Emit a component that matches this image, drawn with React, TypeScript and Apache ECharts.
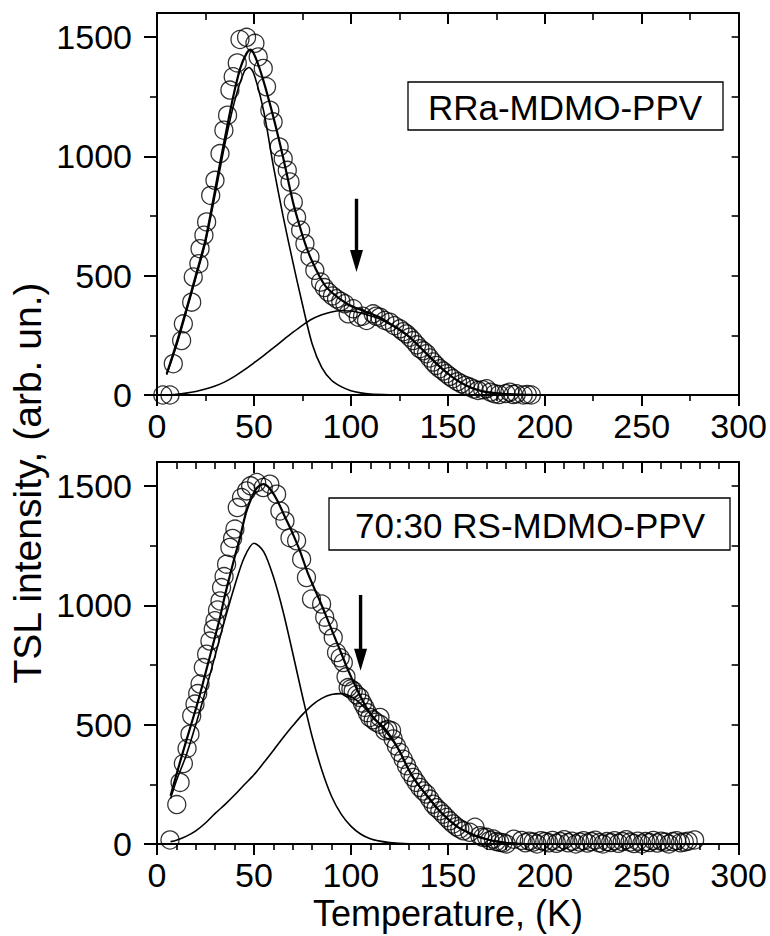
import React, { useEffect, useRef } from "react";
import * as echarts from "echarts";

// ---------- data ----------
const xMajorTicks = [0, 50, 100, 150, 200, 250, 300];
const yMajorTicks = [0, 500, 1000, 1500];
const yMinorTicks = [250, 750, 1250];
const yAllTicks = [0, 250, 500, 750, 1000, 1250, 1500];

const topLabel = "RRa-MDMO-PPV";
const bottomLabel = "70:30 RS-MDMO-PPV";
const xTitle = "Temperature, (K)";
const yTitle = "TSL intensity, (arb. un.)";

// top panel: measured points (T, intensity)
const topCircles: number[][] = [
  [3, 0], [6.7, 0], [8.4, 131], [12.7, 228], [13.6, 298], [17.9, 389], [18.7, 494], [21.6, 550],
  [22.2, 613], [24.2, 669], [25.6, 725], [27.7, 836], [29.9, 899], [32.5, 1011], [34.5, 1109],
  [36.4, 1172], [37.6, 1277], [39.3, 1333], [41.4, 1391], [42.8, 1489], [46.2, 1498], [50.5, 1473],
  [52.2, 1416], [54.8, 1368], [56.5, 1291], [58.2, 1193], [59.9, 1144], [63, 1039], [65.1, 990],
  [67.2, 941], [68.6, 892], [70.3, 808], [72, 745], [74.1, 690], [76.3, 634], [78.9, 578],
  [81.4, 522], [84.4, 473], [86.3, 450], [88.3, 431], [90.5, 415], [92.6, 403], [94.8, 392],
  [96.9, 382], [98.6, 340], [101.2, 361], [103.8, 326], [106, 330], [108.1, 312], [111.5, 340],
  [113, 330], [115, 326], [117.5, 312], [120, 305], [122.5, 290], [125.3, 277], [127, 265],
  [128.7, 256], [130.4, 242], [132.1, 228], [134, 210], [135.6, 194], [137.3, 185], [139, 173],
  [140.7, 155], [142.4, 138], [144, 124], [145.9, 110], [147.6, 100], [149.3, 89], [151, 78],
  [152.7, 68], [155, 56], [157, 47], [159, 40], [161.3, 33], [163.5, 25], [165.6, 19], [168, 22],
  [170, 26], [172, 12], [174.2, 5], [176.5, 2], [178.5, -16], [180, 6], [182, 12], [183.7, 2],
  [185.4, 5], [187, -3], [188.9, 0], [191, 2], [193.1, 0],
];
const topFitSum: number[][] = [
  [5, 89], [10, 215], [15, 355], [20, 500], [22.2, 564], [25, 650], [30, 860], [32.5, 970],
  [35, 1075], [39.3, 1249], [43, 1370], [46.2, 1431], [48.3, 1447], [51, 1410], [54.8, 1319],
  [60, 1165], [65, 997], [70, 813], [73.5, 710], [77, 620], [80, 560], [84, 494], [87, 455],
  [91, 424], [95, 398], [99.5, 375], [104, 360], [108, 347], [112, 335], [115, 325], [120, 300],
  [125, 275], [130, 245], [135, 205], [140, 165], [145, 125], [150, 90], [155, 60], [160, 38],
  [165, 22], [170, 12], [175, 7], [180, 4], [185, 2], [190, 1], [195, 0],
];
const topPeak1: number[][] = [
  [5, 85], [10, 205], [15, 345], [20, 490], [25, 640], [30, 840], [35, 1050], [40, 1230],
  [45, 1355], [47.5, 1372], [50, 1345], [55, 1190], [60, 960], [65, 750], [70, 560], [75, 380],
  [80, 215], [85, 115], [90, 62], [95, 35], [100, 18], [105, 9], [110, 4], [120, 1], [130, 0],
  [150, 0], [170, 0], [190, 0],
];
const topPeak2: number[][] = [
  [5, 0], [10, 3], [15, 8], [20, 15], [25, 25], [30, 38], [35, 55], [40, 78], [45, 105],
  [50, 135], [55, 165], [60, 197], [65, 230], [70, 262], [75, 292], [80, 318], [85, 336],
  [90, 348], [95, 353], [100, 352], [105, 344], [110, 332], [115, 318], [120, 296], [125, 272],
  [130, 243], [135, 205], [140, 165], [145, 125], [150, 90], [155, 60], [160, 38], [165, 22],
  [170, 12], [175, 7], [180, 4], [185, 2], [190, 1],
];

// bottom panel
const bottomCircles: number[][] = [
  [6.7, 17], [10.2, 165], [11.9, 258], [13.6, 337], [15.5, 400], [17, 460], [17.9, 537],
  [19.6, 586], [21, 630], [22.2, 670], [23.9, 739], [25.6, 795], [27.3, 850], [29, 900],
  [29.9, 935], [31.2, 980], [32.5, 1018], [33.3, 1074], [34.6, 1120], [35.9, 1172], [37.6, 1242],
  [39, 1280], [40.2, 1319], [41.4, 1409], [43.6, 1451], [46.2, 1479], [48.3, 1500], [51.4, 1514],
  [54.8, 1493], [58.2, 1507], [61.7, 1465], [63.4, 1395], [66, 1353], [68.6, 1283], [72, 1270],
  [74.6, 1193], [77.1, 1116], [79.7, 1026], [84.9, 1005], [86.5, 950], [88.3, 914], [90.9, 865],
  [92.6, 802], [94.5, 780], [96.1, 760], [97.5, 700], [98.6, 655], [100, 650], [101.2, 642],
  [103, 625], [104.6, 614], [106, 590], [107.2, 572], [108.5, 550], [109.8, 530], [111.5, 520],
  [113, 510], [114.9, 502], [115, 530], [117.5, 474], [119, 480], [121, 474], [121.8, 440],
  [123.5, 410], [125.3, 383], [127, 355], [128.7, 328], [130.4, 300], [132.1, 279], [133.8, 258],
  [135.6, 237], [137.3, 222], [139, 209], [140.7, 188], [142.4, 167], [144, 152], [145.9, 139],
  [147.6, 125], [149.3, 111], [151, 97], [152.7, 84], [154.5, 72], [156.2, 63], [158, 55],
  [161.3, 49], [164, 70], [166.5, 35], [168, 28], [170, 28], [171.7, 15], [173.5, 21], [175, 10],
  [176.8, 7], [178.5, 5], [180.2, 0], [182, -5], [184, 20], [186, -8], [188, 15], [190, 5],
  [192, 12], [194, 8], [196, 0], [198, 14], [200, 10], [202, 5], [204, 15], [206, 3], [208, 10],
  [210, 18], [212, 5], [214, 12], [216, 0], [218, 8], [220, 14], [222, 4], [224, 10], [226, 16],
  [228, 5], [230, 0], [232, 10], [234, 6], [236, 14], [238, 3], [240, 10], [242, 18], [244, 8],
  [246, 2], [248, 12], [250, 0], [252, 10], [254, 6], [256, 15], [258, 4], [260, 12], [262, 8],
  [264, 0], [266, 10], [268, 14], [270, 5], [272, 8], [274, 12], [277.3, 17],
];
const bottomFitSum: number[][] = [
  [7, 202], [10, 290], [15, 430], [20, 565], [22.2, 628], [25, 715], [30, 870], [32.5, 949],
  [35, 1040], [40, 1200], [42.8, 1283], [46, 1390], [49.6, 1465], [52, 1495], [54.8, 1507],
  [58, 1490], [61.7, 1444], [66, 1370], [70, 1300], [73.7, 1228], [78, 1130], [84, 1018],
  [88, 940], [91, 879], [95, 800], [98, 739], [103, 650], [108, 572], [112, 525], [117, 488],
  [121, 445], [125, 391], [128, 340], [132, 280], [136, 235], [140, 195], [145, 145], [150, 105],
  [155, 72], [160, 50], [165, 32], [170, 20], [175, 11], [180, 5], [185, 2], [190, 0],
];
const bottomPeak1: number[][] = [
  [7, 190], [10, 265], [15, 370], [20, 500], [25, 640], [30, 790], [35, 940], [40, 1080],
  [45, 1200], [50, 1260], [55, 1225], [60, 1120], [65, 975], [70, 800], [75, 620], [80, 450],
  [85, 310], [90, 200], [95, 125], [100, 75], [105, 42], [110, 22], [115, 12], [120, 6],
  [130, 1], [140, 0], [160, 0], [190, 0],
];
const bottomPeak2: number[][] = [
  [7, 10], [10, 16], [15, 32], [20, 55], [25, 88], [30, 128], [35, 165], [40, 205], [45, 248],
  [50, 290], [55, 340], [60, 392], [65, 445], [70, 495], [75, 542], [80, 582], [85, 610],
  [90, 626], [95, 630], [100, 618], [105, 588], [110, 545], [115, 500], [120, 450], [125, 391],
  [130, 310], [135, 245], [140, 195], [145, 145], [150, 105], [155, 72], [160, 50], [165, 32],
  [170, 20], [175, 11], [180, 5], [185, 2], [190, 0],
];

// arrows: [T, start intensity, tip intensity]
const topArrow = [[102.9, 822, 515]];
const bottomArrow = [[105, 1043, 726]];

// ---------- styling ----------
const FONT = "'Liberation Sans', Arial, Helvetica, sans-serif";
const BLACK = "#000";

function buildXAxes(gridIndex: number, minorSplit: number) {
  const common: any = {
    type: "value",
    gridIndex,
    min: xMajorTicks[0],
    max: xMajorTicks[xMajorTicks.length - 1],
    interval: xMajorTicks[1] - xMajorTicks[0],
    splitLine: { show: false },
    minorSplitLine: { show: false },
    axisLine: { show: true, onZero: false, lineStyle: { color: BLACK, width: 2 } },
  };
  return [
    {
      ...common,
      position: "bottom",
      axisTick: { show: true, inside: false, length: 11, lineStyle: { color: BLACK, width: 2 } },
      minorTick: { show: true, splitNumber: minorSplit, length: 6, lineStyle: { color: BLACK, width: 1.6 } },
      axisLabel: {
        show: true, margin: 14, fontSize: 34, fontFamily: FONT, color: BLACK,
        formatter: (v: number) => String(v),
      },
    },
    {
      ...common,
      position: "top",
      axisTick: { show: true, inside: true, length: 11, lineStyle: { color: BLACK, width: 2 } },
      minorTick: { show: true, splitNumber: minorSplit, length: 7, lineStyle: { color: BLACK, width: 1.6 } },
      axisLabel: { show: false },
    },
  ];
}

function buildYAxes(gridIndex: number) {
  const common: any = {
    type: "value",
    gridIndex,
    min: 0,
    max: 1600,
    splitLine: { show: false },
  };
  return [
    {
      ...common,
      position: "left",
      axisLine: { show: true, onZero: false, lineStyle: { color: BLACK, width: 2 } },
      axisTick: { show: true, inside: false, length: 13, customValues: yMajorTicks, lineStyle: { color: BLACK, width: 2 } },
      axisLabel: {
        show: true, customValues: yMajorTicks, margin: 25, fontSize: 34, fontFamily: FONT, color: BLACK,
        formatter: (v: number) => String(v),
      },
    },
    {
      ...common,
      position: "left",
      axisLine: { show: false },
      axisTick: { show: true, inside: false, length: 7, customValues: yMinorTicks, lineStyle: { color: BLACK, width: 1.6 } },
      axisLabel: { show: false },
    },
    {
      ...common,
      position: "right",
      axisLine: { show: true, onZero: false, lineStyle: { color: BLACK, width: 2 } },
      axisTick: { show: true, inside: true, length: 7, customValues: yAllTicks, lineStyle: { color: BLACK, width: 1.6 } },
      axisLabel: { show: false },
    },
  ];
}

function panelSeries(
  xi: number, yi: number,
  circles: number[][], sum: number[][], p1: number[][], p2: number[][], arrow: number[][]
) {
  const lineBase = (data: number[][], width: number) => ({
    type: "line",
    xAxisIndex: xi,
    yAxisIndex: yi,
    data,
    showSymbol: false,
    symbol: "none",
    smooth: 0.3,
    silent: true,
    lineStyle: { color: BLACK, width },
    z: 3,
  });
  return [
    {
      type: "scatter",
      xAxisIndex: xi,
      yAxisIndex: yi,
      data: circles,
      symbol: "circle",
      symbolSize: 18,
      silent: true,
      itemStyle: { color: "rgba(0,0,0,0)", borderColor: BLACK, borderWidth: 1.3 },
      z: 2,
    },
    lineBase(sum, 2.2),
    lineBase(p1, 1.6),
    lineBase(p2, 1.6),
    {
      type: "custom",
      xAxisIndex: xi,
      yAxisIndex: yi,
      data: arrow,
      silent: true,
      clip: false,
      encode: { x: 0, y: [1, 2] },
      renderItem: (params: any, api: any) => {
        const start = api.coord([api.value(0), api.value(1)]);
        const tip = api.coord([api.value(0), api.value(2)]);
        const headLen = 22;
        const headHalf = 6.5;
        return {
          type: "group",
          children: [
            {
              type: "line",
              shape: { x1: start[0], y1: start[1], x2: tip[0], y2: tip[1] - headLen + 2 },
              style: { stroke: BLACK, lineWidth: 3.4 },
            },
            {
              type: "polygon",
              shape: {
                points: [
                  [tip[0] - headHalf, tip[1] - headLen],
                  [tip[0] + headHalf, tip[1] - headLen],
                  [tip[0], tip[1]],
                ],
              },
              style: { fill: BLACK },
            },
          ],
        };
      },
      z: 4,
    },
  ];
}

export default function App() {
  const ref = useRef<HTMLDivElement>(null);

  useEffect(() => {
    if (!ref.current) return;
    const chart = echarts.init(ref.current, null, { renderer: "svg" });

    const option: any = {
      animation: false,
      backgroundColor: "#fff",
      textStyle: { fontFamily: FONT, color: BLACK },
      grid: [
        { left: 157, top: 13, width: 582, height: 382, containLabel: false },
        { left: 157, top: 462, width: 582, height: 382, containLabel: false },
      ],
      xAxis: [...buildXAxes(0, 2), ...buildXAxes(1, 5)],
      yAxis: [...buildYAxes(0), ...buildYAxes(1)],
      series: [
        ...panelSeries(0, 0, topCircles, topFitSum, topPeak1, topPeak2, topArrow),
        ...panelSeries(2, 3, bottomCircles, bottomFitSum, bottomPeak1, bottomPeak2, bottomArrow),
      ],
      graphic: [
        {
          type: "rect",
          x: 408, y: 82,
          shape: { x: 0, y: 0, width: 315, height: 48 },
          style: { fill: "rgba(0,0,0,0)", stroke: BLACK, lineWidth: 1.3 },
          silent: true,
        },
        {
          type: "text",
          x: 565, y: 107,
          style: { text: topLabel, fontSize: 35, fontFamily: FONT, fill: BLACK, align: "center", verticalAlign: "middle" },
          silent: true,
        },
        {
          type: "rect",
          x: 329, y: 498,
          shape: { x: 0, y: 0, width: 401, height: 52 },
          style: { fill: "rgba(0,0,0,0)", stroke: BLACK, lineWidth: 1.3 },
          silent: true,
        },
        {
          type: "text",
          x: 530, y: 525,
          style: { text: bottomLabel, fontSize: 35, fontFamily: FONT, fill: BLACK, align: "center", verticalAlign: "middle" },
          silent: true,
        },
        {
          type: "text",
          x: 448, y: 913,
          style: { text: xTitle, fontSize: 36, fontFamily: FONT, fill: BLACK, align: "center", verticalAlign: "middle" },
          silent: true,
        },
        {
          type: "text",
          x: 27, y: 483,
          rotation: Math.PI / 2,
          style: { text: yTitle, fontSize: 39, fontFamily: FONT, fill: BLACK, align: "center", verticalAlign: "middle" },
          silent: true,
        },
      ],
    };

    chart.setOption(option);
    return () => {
      chart.dispose();
    };
  }, []);

  return (
    <div
      ref={ref}
      style={{ position: "absolute", left: 0, top: 0, width: 770, height: 936 }}
    />
  );
}
